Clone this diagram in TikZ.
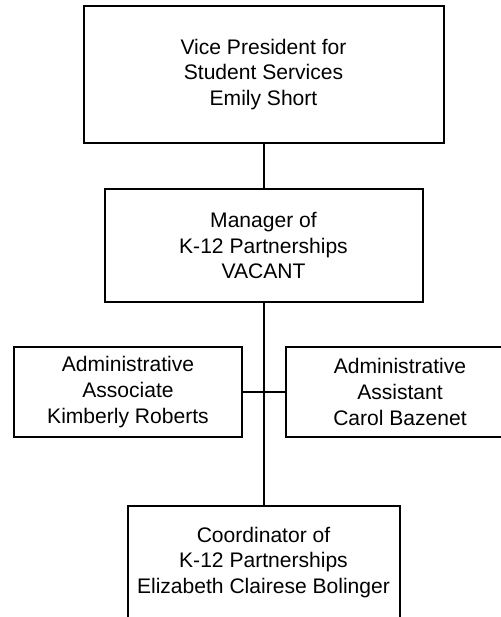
\documentclass[tikz,border=0pt]{standalone}
\usepackage{fontspec}
\setmainfont{Liberation Sans}
\begin{document}
\begin{tikzpicture}[x=0.75pt,y=-0.75pt,
  orgbox/.style={draw=black, line width=1.5pt, fill=white, inner sep=0pt, align=center,
    font=\fontsize{15.8}{19.2}\selectfont},
  link/.style={draw=black, line width=1.5pt}]
\useasboundingbox (0,0) rectangle (500,617);
\node[orgbox, minimum width=270pt, minimum height=102.75pt] (vp) at (263.5,74.5)
  {Vice President for\\Student Services\\Emily Short};
\node[orgbox, minimum width=238.5pt, minimum height=84.75pt] (mgr) at (263.5,245.5)
  {Manager of\\K-12 Partnerships\\VACANT};
\node[orgbox, minimum width=171pt, minimum height=67.5pt] (assoc) at (128,392)
  {Administrative\\Associate\\Kimberly Roberts};
\node[orgbox, minimum width=171pt, minimum height=67.5pt] (asst) at (400,392)
  {Administrative\\Assistant\\Carol Bazenet};
\node[orgbox, minimum width=204pt, minimum height=84.75pt] (coord) at (263.5,562.5)
  {Coordinator of\\K-12 Partnerships\\Elizabeth Clairese Bolinger};
\draw[link] (vp.south) -- (mgr.north);
\draw[link] (mgr.south) -- (coord.north);
\draw[link] (assoc.east) -- (asst.west);
\end{tikzpicture}
\end{document}
